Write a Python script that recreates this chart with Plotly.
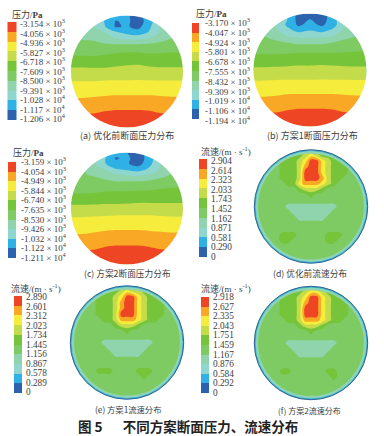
import plotly.graph_objects as go

# ---------- data ----------
BAND_COLORS = ["#2D62AE", "#2FB1E5", "#8FD6CF", "#8FD4AC", "#7DCB62", "#76C43A",
               "#C4DB4A", "#F6EC3C", "#F9A825", "#EE4625"]

TICKS_A = [("3.154", 3), ("4.056", 3), ("4.936", 3), ("5.827", 3), ("6.718", 3), ("7.609", 3),
           ("8.500", 3), ("9.391", 3), ("1.028", 4), ("1.117", 4), ("1.206", 4)]
TICKS_B = [("3.170", 3), ("4.047", 3), ("4.924", 3), ("5.801", 3), ("6.678", 3), ("7.555", 3),
           ("8.432", 3), ("9.309", 3), ("1.019", 4), ("1.106", 4), ("1.194", 4)]
TICKS_C = [("3.159", 3), ("4.054", 3), ("4.949", 3), ("5.844", 3), ("6.740", 3), ("7.635", 3),
           ("8.530", 3), ("9.426", 3), ("1.032", 4), ("1.122", 4), ("1.211", 4)]
TICKS_D = ["2.904", "2.614", "2.323", "2.033", "1.743", "1.452", "1.162", "0.871", "0.581", "0.290", "0"]
TICKS_E = ["2.890", "2.601", "2.312", "2.023", "1.734", "1.445", "1.156", "0.867", "0.578", "0.289", "0"]
TICKS_F = ["2.918", "2.627", "2.335", "2.043", "1.751", "1.459", "1.167", "0.876", "0.584", "0.292", "0"]

CAPTIONS = ["(a) 优化前断面压力分布", "(b) 方案1断面压力分布", "(c) 方案2断面压力分布",
            "(d) 优化前流速分布", "(e) 方案1流速分布", "(f) 方案2流速分布"]
MAIN_TITLE = "图 5\u2003\u2002不同方案断面压力、流速分布"

# pressure fields in legend-band units (0 = bottom band, 9 = top band)
P_COLS = [-1, -.8, -.6, -.4, -.2, 0, .2, .4, .6, .8, 1]
P_ROWS = [-1, -.9, -.8, -.7, -.6, -.5, -.4, -.3, -.2, -.1, 0, .1, .2, .3, .4, .5, .6, .7, .8, .9, 1]

PRESSURE_A = [
    [4, 4, 3.5, 2, .9, .6, .2, 1.2, 3, 4, 4],
    [4, 4, 3.3, 1.4, .45, .7, 0, 1.0, 2.6, 4, 4],
    [4, 4, 2.6, 1.6, .4, .6, .2, 1.3, 2.6, 4, 4],
    [4, 3.6, 3.0, 2.5, 1.6, 1.2, .9, 1.6, 2.6, 3.2, 4],
    [4, 3.4, 3.3, 3.0, 2.4, 2.1, 2.1, 2.5, 3.0, 3.5, 4],
    [4, 3.7, 3.7, 3.5, 3.4, 3.4, 3.4, 3.5, 3.7, 3.9, 4],
    [4.1, 4.0, 4.0, 4.0, 4.1, 4.2, 4.2, 4.1, 4.2, 4.3, 4.3],
    [4.4, 4.4, 4.4, 4.5, 4.65, 4.7, 4.7, 4.6, 4.6, 4.65, 4.7],
    [4.9, 4.9, 4.85, 4.9, 5.05, 5.1, 5.15, 5.0, 5.0, 5.0, 5.0],
    [5.4, 5.4, 5.35, 5.35, 5.45, 5.55, 5.6, 5.45, 5.4, 5.4, 5.4],
    [5.75, 5.75, 5.8, 5.8, 5.9, 5.95, 6.0, 5.9, 5.8, 5.8, 5.8],
    [6.2, 6.2, 6.2, 6.25, 6.3, 6.3, 6.35, 6.3, 6.25, 6.25, 6.25],
    [6.6, 6.6, 6.6, 6.65, 6.65, 6.65, 6.65, 6.65, 6.65, 6.65, 6.65],
    [6.9, 6.9, 7, 7, 7, 7, 7, 7, 7, 7, 7],
    [7.2, 7.2, 7.3, 7.35, 7.4, 7.4, 7.4, 7.4, 7.35, 7.3, 7.3],
    [7.6, 7.6, 7.65, 7.75, 7.8, 7.8, 7.8, 7.8, 7.75, 7.7, 7.7],
    [8, 8, 8, 8.1, 8.15, 8.15, 8.15, 8.15, 8.1, 8, 8],
    [8.3, 8.3, 8.3, 8.45, 8.55, 8.55, 8.55, 8.5, 8.35, 8.3, 8.3],
    [8.7, 8.7, 8.7, 8.9, 9, 9, 9, 8.9, 8.7, 8.7, 8.7],
    [9, 9, 9.1, 9.2, 9.3, 9.3, 9.3, 9.2, 9.1, 9, 9],
    [9.3, 9.3, 9.4, 9.5, 9.5, 9.5, 9.5, 9.5, 9.4, 9.3, 9.3],
]

PRESSURE_B = [
    [4, 4, 3, 1.5, .1, .2, .1, .9, 3, 4, 4],
    [4, 4, 2.6, 1.5, .1, .5, .1, .9, 2.6, 4, 4],
    [4, 4, 2.4, 1.3, .3, .9, .3, 1.0, 2.4, 4, 4],
    [4, 3.4, 2.7, 1.8, 1.2, 1.5, 1.2, 1.7, 2.7, 3.4, 4],
    [4, 3.5, 3.1, 2.5, 2.2, 2.2, 2.2, 2.5, 3.1, 3.5, 4],
    [4, 3.7, 3.6, 3.4, 3.2, 3.2, 3.2, 3.4, 3.7, 3.8, 4],
    [4.1, 4.0, 4.0, 3.95, 3.9, 3.9, 3.9, 3.95, 4.1, 4.2, 4.2],
    [4.4, 4.4, 4.4, 4.45, 4.5, 4.5, 4.5, 4.5, 4.55, 4.6, 4.6],
    [4.85, 4.85, 4.85, 4.9, 4.95, 4.95, 4.95, 4.95, 4.9, 4.9, 4.9],
    [5.3, 5.3, 5.3, 5.35, 5.4, 5.4, 5.45, 5.4, 5.35, 5.35, 5.35],
    [5.7, 5.7, 5.75, 5.8, 5.85, 5.85, 5.9, 5.85, 5.8, 5.75, 5.75],
    [6.15, 6.15, 6.2, 6.25, 6.25, 6.25, 6.3, 6.25, 6.25, 6.2, 6.2],
    [6.55, 6.55, 6.6, 6.6, 6.6, 6.6, 6.6, 6.6, 6.6, 6.6, 6.6],
    [6.9, 6.9, 6.95, 7, 7, 7, 7, 7, 7, 7, 7],
    [7.25, 7.25, 7.3, 7.4, 7.4, 7.4, 7.4, 7.4, 7.35, 7.3, 7.3],
    [7.6, 7.6, 7.65, 7.75, 7.8, 7.8, 7.8, 7.8, 7.75, 7.7, 7.7],
    [7.95, 8, 8, 8.1, 8.15, 8.15, 8.15, 8.15, 8.1, 8, 8],
    [8.3, 8.3, 8.3, 8.45, 8.55, 8.55, 8.55, 8.5, 8.35, 8.3, 8.3],
    [8.7, 8.7, 8.7, 8.9, 9, 9, 9, 8.9, 8.7, 8.7, 8.7],
    [9, 9, 9.1, 9.2, 9.3, 9.3, 9.3, 9.2, 9.1, 9, 9],
    [9.3, 9.3, 9.4, 9.5, 9.5, 9.5, 9.5, 9.5, 9.4, 9.3, 9.3],
]

PRESSURE_C = [
    [4, 4, 3.4, 2, 1.0, .5, .1, 1.0, 3, 4, 4],
    [4, 4, 3.0, 1.6, .4, .7, 0, .9, 2.6, 4, 4],
    [4, 4, 2.7, 1.6, .7, .6, .1, 1.2, 2.5, 4, 4],
    [4, 3.6, 3.1, 2.5, 1.6, 1.3, 1.0, 1.7, 2.6, 3.3, 4],
    [4, 3.6, 3.4, 3.1, 2.6, 2.4, 2.3, 2.6, 3.1, 3.6, 4],
    [4, 3.8, 3.8, 3.6, 3.4, 3.4, 3.4, 3.5, 3.8, 4.0, 4],
    [4.1, 4.0, 4.0, 4.0, 4.0, 4.05, 4.1, 4.1, 4.3, 4.4, 4.4],
    [4.35, 4.35, 4.4, 4.5, 4.55, 4.55, 4.6, 4.65, 4.7, 4.75, 4.8],
    [4.85, 4.85, 4.85, 4.9, 4.95, 5.0, 5.0, 5.05, 5.1, 5.15, 5.15],
    [5.35, 5.35, 5.35, 5.4, 5.4, 5.45, 5.5, 5.5, 5.5, 5.5, 5.5],
    [5.8, 5.8, 5.85, 5.9, 5.95, 5.95, 6.0, 6.0, 5.95, 5.9, 5.9],
    [6.25, 6.25, 6.3, 6.35, 6.4, 6.4, 6.4, 6.4, 6.35, 6.3, 6.3],
    [6.7, 6.7, 6.75, 6.8, 6.8, 6.85, 6.85, 6.85, 6.8, 6.75, 6.75],
    [7.0, 7.0, 7.1, 7.2, 7.2, 7.2, 7.2, 7.2, 7.15, 7.1, 7.1],
    [7.3, 7.3, 7.4, 7.5, 7.55, 7.55, 7.55, 7.5, 7.45, 7.4, 7.4],
    [7.65, 7.65, 7.75, 7.85, 7.9, 7.9, 7.9, 7.85, 7.8, 7.75, 7.75],
    [8, 8, 8.05, 8.2, 8.25, 8.25, 8.25, 8.2, 8.1, 8, 8],
    [8.3, 8.3, 8.35, 8.55, 8.65, 8.65, 8.65, 8.55, 8.4, 8.3, 8.3],
    [8.7, 8.7, 8.75, 8.95, 9.05, 9.05, 9.05, 8.95, 8.75, 8.7, 8.7],
    [9, 9, 9.1, 9.2, 9.3, 9.3, 9.3, 9.2, 9.1, 9, 9],
    [9.3, 9.3, 9.4, 9.5, 9.5, 9.5, 9.5, 9.5, 9.4, 9.3, 9.3],
]

# velocity fields: legend-band digit for each cell of a 21 x 21 section grid
V_AXIS = [-1, -.9, -.8, -.7, -.6, -.5, -.4, -.3, -.2, -.1, 0, .1, .2, .3, .4, .5, .6, .7, .8, .9, 1]

VELOCITY_D = [
    "444444444565444444444",
    "444444555676555544444",
    "444445556799765554444",
    "444445556899765554444",
    "444445556999765554444",
    "444445556999865544444",
    "444444557888765444444",
    "444444445666544444444",
    "444444444454444444444",
    "444444444444444444444",
    "444444333333333444444",
    "444444433333334444444",
    "444444443333344444444",
    "444444444444444444444",
    "444444444444444444444",
    "444445554444455544444",
    "444445544444455444444",
    "444444444444444444444",
    "444444444444444444444",
    "444444444444444444444",
    "444444444444444444444",
]
VELOCITY_E = [
    "444444444454444444444",
    "444444455676655444444",
    "444445556799765554444",
    "444445556899765554444",
    "444445556899765554444",
    "444445556999765554444",
    "444444556888765544444",
    "444444445666544444444",
    "444444444454444444444",
    "444444444444444444444",
    "444444333333333444444",
    "444444433333334444444",
    "444444443333344444444",
    "444444444444444444444",
    "444444444444444444444",
    "444445554444555444444",
    "444444444444454444444",
    "444444444444444444444",
    "444444444444444444444",
    "444444444444444444444",
    "444444444444444444444",
]
VELOCITY_F = [
    "444444444454444444444",
    "444444455677655444444",
    "444445556799765554444",
    "444445556899765554444",
    "444445556999765554444",
    "444445556999765554444",
    "444444556888765544444",
    "444444445666544444444",
    "444444444454444444444",
    "444444444444444444444",
    "444444333333333444444",
    "444444433333334444444",
    "444444443333344444444",
    "444444444444444444444",
    "444444444444444444444",
    "444445544444455444444",
    "444444444444445444444",
    "444444444444444444444",
    "444444444444444444444",
    "444444444444444444444",
    "444444444444444444444",
]
BAR_BANDS = [9, 8, 7, 6, 5, 4, 3, 2, 1, 0]

# ---------- page layout (pixels on a 384 x 436 canvas) ----------
LAYOUT = {
    "a": dict(c=(127, 71.5, 56), bar=(7.5, 16, 22, 120), lab=(17.5, 23, 118), head=(10, 14), cap=(127, 135), cap_size=9, lab_size=9),
    "b": dict(c=(310, 70, 56.5), bar=(192, 199, 23, 119), lab=(202.5, 22, 120), head=(194, 13.5), cap=(312, 135), cap_size=9, lab_size=9),
    "c": dict(c=(127, 208.5, 56), bar=(8, 16, 162, 258), lab=(18.5, 161, 257), head=(11, 152.5), cap=(127, 273), cap_size=8.7, lab_size=9),
    "d": dict(c=(311, 206.5, 57), bar=(199, 207, 159, 257), lab=(209, 161, 257), head=(199, 151), cap=(310, 273), cap_size=8.7, lab_size=9.3),
    "e": dict(c=(127, 342.5, 57), bar=(14, 22, 296, 393), lab=(24, 297, 392), head=(9, 288), cap=(128, 409), cap_size=8.3, lab_size=9.3),
    "f": dict(c=(311, 343, 57), bar=(201, 209, 297, 393), lab=(211, 297, 393), head=(199, 288), cap=(309, 410), cap_size=8, lab_size=9.3),
}
RIMS = [(0.945, "#8FD4AC", 2), (0.965, "#8FD6CF", 1.2), (0.98, "#2FB1E5", 0.8), (0.995, "#2D62AE", 1)]
SERIF = "Liberation Serif, Noto Sans CJK SC"
CJK = "Noto Sans CJK SC, Liberation Serif"
TXT = "#3c3c3c"

scale = []
for k, col in enumerate(BAND_COLORS):
    scale += [[k / 10, col], [(k + 1) / 10, col]]

fig = go.Figure()
shapes, notes = [], []


def note(x, y, text, size=9, family=SERIF, anchor="left", color=TXT):
    notes.append(dict(x=x, y=y, text=text, showarrow=False, xanchor=anchor, yanchor="middle",
                      font=dict(size=size, family=family, color=color)))


def add_field(g, xs, ys, z):
    cx, cy, r = g["c"]
    fig.add_trace(go.Contour(
        x=[cx + r * v for v in xs], y=[cy + r * v for v in ys], z=z,
        autocontour=False, contours=dict(start=0.5, end=8.5, size=1, coloring="fill", showlines=False),
        line=dict(width=0, smoothing=0.9), colorscale=scale, zmin=-0.5, zmax=9.5,
        showscale=False, hoverinfo="skip"))
    k = 0.5523 * r
    o = r + 1.5
    shapes.append(dict(
        type="path", xref="x", yref="y", fillcolor="white", line=dict(width=0), layer="above",
        path=(f"M{cx-o},{cy-o}L{cx+o},{cy-o}L{cx+o},{cy+o}L{cx-o},{cy+o}Z"
              f"M{cx-r},{cy}C{cx-r},{cy-k} {cx-k},{cy-r} {cx},{cy-r}"
              f"C{cx+k},{cy-r} {cx+r},{cy-k} {cx+r},{cy}"
              f"C{cx+r},{cy+k} {cx+k},{cy+r} {cx},{cy+r}"
              f"C{cx-k},{cy+r} {cx-r},{cy+k} {cx-r},{cy}Z")))


def add_legend(g, labels, head):
    x0, x1, y0, y1 = g["bar"]
    n = len(BAR_BANDS)
    fig.add_trace(go.Heatmap(
        x=[x0, x1], y=[y0 + (y1 - y0) * i / n for i in range(n + 1)],
        z=[[b] for b in BAR_BANDS], colorscale=scale, zmin=-0.5, zmax=9.5,
        showscale=False, hoverinfo="skip"))
    lx, ly0, ly1 = g["lab"]
    for i, t in enumerate(labels):
        note(lx, ly0 + (ly1 - ly0) * i / (len(labels) - 1), t, size=g["lab_size"])
    note(g["head"][0], g["head"][1], head, size=9, family=SERIF)


def pressure_labels(ticks):
    return [f"-{m} × 10<sup>{e}</sup>" for m, e in ticks]


panels = [("a", PRESSURE_A, TICKS_A), ("b", PRESSURE_B, TICKS_B), ("c", PRESSURE_C, TICKS_C)]
for key, z, ticks in panels:
    g = LAYOUT[key]
    add_field(g, P_COLS, P_ROWS, z)
    add_legend(g, pressure_labels(ticks), "压力/<b>Pa</b>")

for key, rows, ticks in [("d", VELOCITY_D, TICKS_D), ("e", VELOCITY_E, TICKS_E), ("f", VELOCITY_F, TICKS_F)]:
    g = LAYOUT[key]
    add_field(g, V_AXIS, V_AXIS, [[int(ch) for ch in row] for row in rows])
    add_legend(g, ticks, "流速/(m · s<sup>-1</sup>)")
    cx, cy, r = g["c"]
    for frac, col, w in RIMS:
        shapes.append(dict(type="circle", xref="x", yref="y", layer="above",
                           x0=cx - r * frac, x1=cx + r * frac, y0=cy - r * frac, y1=cy + r * frac,
                           line=dict(color=col, width=w), fillcolor="rgba(0,0,0,0)"))

for key, cap in zip("abcdef", CAPTIONS):
    g = LAYOUT[key]
    note(g["cap"][0], g["cap"][1], cap, size=g["cap_size"], family=CJK, anchor="center")
note(187.5, 426, f"<b>{MAIN_TITLE}</b>", size=13.5, family="Noto Sans CJK SC", anchor="center", color="#222222")

fig.update_layout(
    width=384, height=436, margin=dict(l=0, r=0, t=0, b=0),
    paper_bgcolor="white", plot_bgcolor="white", showlegend=False,
    xaxis=dict(range=[0, 384], visible=False, fixedrange=True),
    yaxis=dict(range=[436, 0], visible=False, fixedrange=True),
    shapes=shapes, annotations=notes)

fig.write_html("out.html", config=dict(displayModeBar=False),
               post_script="document.body.style.margin='0';document.body.style.overflow='hidden';")
